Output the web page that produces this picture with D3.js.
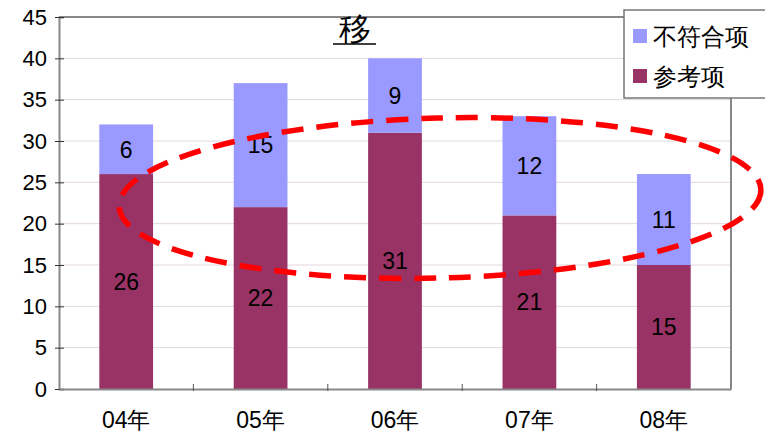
<!DOCTYPE html>
<html>
<head>
<meta charset="utf-8">
<script src="https://cdn.jsdelivr.net/npm/d3@7"></script>
<style>
  body { margin: 0; background: #fff; }
  text { font-family: "Liberation Sans", Arial, sans-serif; }
</style>
</head>
<body>
<div id="chart"></div>
<script>
// data
var years = ["04年", "05年", "06年", "07年", "08年"];
var refItems = [26, 22, 31, 21, 15];      // 参考项
var nonConform = [6, 15, 9, 12, 11];      // 不符合项
var yTicks = [0, 5, 10, 15, 20, 25, 30, 35, 40, 45];
var seriesNames = ["不符合项", "参考项"];
var seriesColors = ["#9999ff", "#993366"];

var svgWidth = 765, svgHeight = 438;
var margin = { top: 17, right: 34, bottom: 49, left: 59 };
var width = svgWidth - margin.left - margin.right;
var height = svgHeight - margin.top - margin.bottom;

var svg = d3.select("#chart").append("svg")
  .attr("width", svgWidth)
  .attr("height", svgHeight);

var chartGroup = svg.append("g")
  .attr("transform", `translate(${margin.left}, ${margin.top})`);

// scales
var x = d3.scaleBand().domain(years).range([0, width]).paddingInner(0.6).paddingOuter(0.3);
var y = d3.scaleLinear().domain([0, 45]).range([height, 0]);

// gridlines
chartGroup.selectAll(".grid")
  .data(yTicks.slice(1))
  .enter().append("line")
  .attr("x1", 0).attr("x2", width)
  .attr("y1", d => y(d)).attr("y2", d => y(d))
  .attr("stroke", "#e2d6dc").attr("stroke-width", 1);

// stacked rows
var rows = years.map((c, i) => ({ year: c, ref: refItems[i], non: nonConform[i] }));
var stack = d3.stack().keys(["ref", "non"])(rows);
var colorOf = { ref: seriesColors[1], non: seriesColors[0] };

stack.forEach(function(layer) {
  chartGroup.selectAll(".bar-" + layer.key)
    .data(layer)
    .enter().append("rect")
    .attr("x", d => x(d.data.year))
    .attr("y", d => y(d[1]))
    .attr("width", x.bandwidth())
    .attr("height", d => y(d[0]) - y(d[1]))
    .attr("fill", colorOf[layer.key]);

  chartGroup.selectAll(".lbl-" + layer.key)
    .data(layer)
    .enter().append("text")
    .attr("x", d => x(d.data.year) + x.bandwidth() / 2)
    .attr("y", d => y((d[0] + d[1]) / 2))
    .attr("dy", "0.36em")
    .attr("text-anchor", "middle")
    .attr("font-size", "23px")
    .attr("fill", "#000")
    .text(d => d[1] - d[0]);
});

// frame: top and right gray
chartGroup.append("line").attr("x1", 0).attr("x2", width).attr("y1", 0).attr("y2", 0)
  .attr("stroke", "#888").attr("stroke-width", 2);
chartGroup.append("line").attr("x1", width).attr("x2", width).attr("y1", 0).attr("y2", height)
  .attr("stroke", "#888").attr("stroke-width", 2);

// axes
var leftAxis = d3.axisLeft(y).tickValues(yTicks).tickSize(-5).tickPadding(12);
var yAxisG = chartGroup.append("g").call(leftAxis);
yAxisG.select(".domain").attr("stroke", "#888").attr("stroke-width", 2);
yAxisG.selectAll(".tick line").attr("stroke", "#333").attr("x1", -4).attr("x2", 5);
yAxisG.selectAll(".tick text").attr("font-size", "22px").attr("fill", "#000")
  .attr("font-family", "Liberation Sans, Arial, sans-serif");

var xAxisG = chartGroup.append("g")
  .attr("transform", `translate(0, ${height})`)
  .call(d3.axisBottom(x).tickSize(0).tickPadding(23));
xAxisG.select(".domain").attr("stroke", "#888").attr("stroke-width", 2);
xAxisG.selectAll(".tick text").attr("font-size", "23px").attr("fill", "#000")
  .attr("font-family", "Noto Sans CJK SC, sans-serif");
// category separator ticks
xAxisG.selectAll(".sep")
  .data(years.slice(1))
  .enter().append("line")
  .attr("x1", d => x(d) - x.step() * x.paddingInner() / 2)
  .attr("x2", d => x(d) - x.step() * x.paddingInner() / 2)
  .attr("y1", -5).attr("y2", 2)
  .attr("stroke", "#555");

// title
svg.append("text")
  .attr("x", 355).attr("y", 40)
  .attr("text-anchor", "middle")
  .attr("font-family", "Noto Serif CJK SC, Noto Sans CJK SC, serif")
  .attr("font-size", "32px")
  .attr("font-weight", "300")
  .attr("fill", "#000")
  .text("移");
svg.append("line").attr("x1", 333).attr("x2", 376).attr("y1", 44).attr("y2", 44)
  .attr("stroke", "#000").attr("stroke-width", 1.5);

// red dashed ellipse annotation
svg.append("ellipse")
  .attr("cx", 440).attr("cy", 198)
  .attr("rx", 321).attr("ry", 80)
  .attr("transform", "rotate(-1.5 440 198)")
  .attr("fill", "none")
  .attr("stroke", "#ff0000")
  .attr("stroke-width", 5.5)
  .attr("stroke-dasharray", "22 13");

// legend
var legend = svg.append("g").attr("transform", "translate(624, 10)");
legend.append("rect")
  .attr("width", 150).attr("height", 88)
  .attr("fill", "#fff").attr("stroke", "#777").attr("stroke-width", 1.5);
seriesNames.forEach(function(name, i) {
  legend.append("rect")
    .attr("x", 9).attr("y", 19 + i * 40)
    .attr("width", 14).attr("height", 14)
    .attr("fill", seriesColors[i]);
  legend.append("text")
    .attr("x", 29).attr("y", 26 + i * 40)
    .attr("dy", "0.36em")
    .attr("font-family", "Noto Sans CJK SC, sans-serif")
    .attr("font-size", "24px")
    .attr("fill", "#000")
    .text(name);
});
</script>
</body>
</html>
